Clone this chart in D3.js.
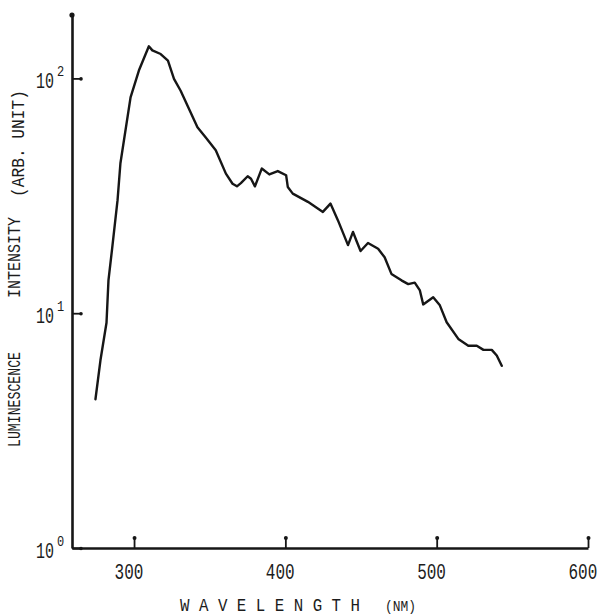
<!DOCTYPE html>
<html>
<head>
<meta charset="utf-8">
<script src="https://cdn.jsdelivr.net/npm/d3@7"></script>
<style>
  html, body { margin: 0; padding: 0; background: #fff; }
  svg { display: block; }
  text { font-family: "Liberation Mono", "DejaVu Sans Mono", monospace; fill: #1c1c1c; }
</style>
</head>
<body>
<svg id="chart" width="606" height="616"></svg>
<script>
// Luminescence emission spectrum (arbitrary units, log scale)
const wavelength = [
  274.5, 277.8, 281.8, 283.1, 285.5, 289.1, 291.0, 297.7, 303.2, 309.8,
  312.1, 317.6, 322.4, 326.4, 330.8, 341.9, 347.4, 354.0, 360.7, 365.1,
  368.0, 370.6, 375.1, 377.3, 379.9, 384.4, 389.4, 395.0, 400.5, 401.6,
  404.9, 414.9, 424.8, 429.8, 434.7, 441.4, 444.7, 446.9, 449.7, 454.6,
  461.3, 465.6, 470.1, 476.7, 481.2, 485.5, 488.9, 491.1, 497.7, 502.1,
  506.6, 514.3, 520.9, 526.5, 530.9, 536.4, 539.7, 543.0
];
const intensity = [
  4.3, 6.3, 9.1, 13.8, 18.8, 30.3, 43.5, 83, 108, 137,
  131.6, 127, 119, 99.6, 88.6, 62, 56, 49.4, 39.3, 35.6,
  34.7, 35.8, 38.3, 37.4, 34.7, 41.3, 39.0, 40.3, 38.7, 34.5,
  32.3, 29.8, 27.0, 29.3, 24.9, 19.5, 22.2, 20.4, 18.4, 19.9,
  18.8, 17.3, 14.7, 13.8, 13.3, 13.5, 12.5, 10.9, 11.7, 10.8,
  9.15, 7.77, 7.27, 7.27, 6.98, 6.98, 6.6, 5.97
];
const xTicks = [300, 400, 500, 600];
const yTickExponents = [0, 1, 2];
const xTitle = "W A V E L E N G T H";
const xUnit = "(NM)";
const yTitleParts = ["LUMINESCENCE", "INTENSITY", "(ARB. UNIT)"];

const svg = d3.select("#chart");
const ink = "#161616";

const x = d3.scaleLinear().domain([259, 600]).range([72, 588]);
const y = d3.scaleLog().domain([1, Math.pow(10, 2.27)]).range([548, 15]);

const points = wavelength.map((w, i) => ({ w, v: intensity[i] }));

// x axis: ticks point up into the plot, with a small knob on each
const gx = svg.append("g")
  .attr("transform", `translate(0,${y(1)})`)
  .call(d3.axisBottom(x).tickValues(xTicks).tickSizeInner(-10).tickSizeOuter(0).tickFormat(""));
gx.select(".domain").attr("stroke", ink).attr("stroke-width", 2.6);
gx.selectAll(".tick line").attr("stroke", ink).attr("stroke-width", 1.8);
gx.selectAll(".tick").append("circle").attr("cy", -10).attr("r", 2).attr("fill", ink);
// tall, narrow lettering: stretch vertically
gx.selectAll(".tick").append("text")
  .attr("transform", "translate(-20,31) scale(1,1.4)")
  .attr("text-anchor", "start")
  .attr("font-size", 16)
  .text(d => d);

// y axis: ticks point right into the plot; labels are 10 with a raised exponent
const gy = svg.append("g")
  .attr("transform", `translate(${x(259)},0)`)
  .call(d3.axisLeft(y).tickValues(yTickExponents.map(e => Math.pow(10, e)))
    .tickSizeInner(-9).tickSizeOuter(0).tickFormat(""));
gy.select(".domain").attr("stroke", ink).attr("stroke-width", 2.6);
gy.selectAll(".tick line").attr("stroke", ink).attr("stroke-width", 1.8);
gy.selectAll(".tick").append("circle").attr("cx", 9).attr("r", 1.8).attr("fill", ink);
gy.selectAll(".tick").append("text")
  .attr("transform", "translate(-36,9) scale(1,1.5)")
  .attr("text-anchor", "start")
  .attr("font-size", 15)
  .text("10");
gy.selectAll(".tick").append("text")
  .attr("transform", "translate(-15,-3) scale(1,1.25)")
  .attr("text-anchor", "start")
  .attr("font-size", 12)
  .text(d => Math.round(Math.log10(d)));
// knob on top of the vertical axis
svg.append("circle").attr("cx", x(259)).attr("cy", y.range()[1]).attr("r", 2.6).attr("fill", ink);

// spectrum curve
svg.append("path")
  .datum(points)
  .attr("fill", "none")
  .attr("stroke", ink)
  .attr("stroke-width", 2.4)
  .attr("stroke-linejoin", "round")
  .attr("stroke-linecap", "round")
  .attr("d", d3.line().x(d => x(d.w)).y(d => y(d.v)));

// x axis title
svg.append("text")
  .attr("x", 180).attr("y", 611)
  .attr("font-size", 18)
  .attr("textLength", 180).attr("lengthAdjust", "spacingAndGlyphs")
  .text(xTitle);
svg.append("text")
  .attr("x", 385).attr("y", 611)
  .attr("font-size", 15)
  .attr("textLength", 31).attr("lengthAdjust", "spacingAndGlyphs")
  .text(xUnit);

// y axis title, lettered in three runs
const yTitleRuns = [
  { t: yTitleParts[0], start: 447, len: 95, bx: 20 },
  { t: yTitleParts[1], start: 298, len: 81, bx: 20 },
  { t: yTitleParts[2], start: 197, len: 107, bx: 24 }
];
yTitleRuns.forEach(r => {
  svg.append("text")
    .attr("transform", `translate(${r.bx},${r.start}) rotate(-90)`)
    .attr("font-size", 18)
    .attr("textLength", r.len).attr("lengthAdjust", "spacingAndGlyphs")
    .text(r.t);
});
</script>
</body>
</html>
